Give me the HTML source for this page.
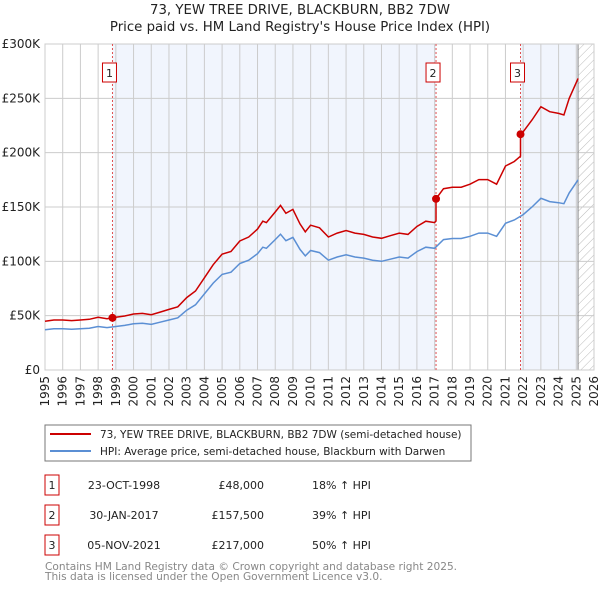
<!DOCTYPE html>
<html><head><meta charset="utf-8"><style>
body{margin:0;background:#fff;width:600px;height:590px;overflow:hidden;font-family:"DejaVu Sans","Liberation Sans",sans-serif}
svg text{font-family:"DejaVu Sans","Liberation Sans",sans-serif}
</style></head><body>
<svg id="c" width="600" height="590" xmlns="http://www.w3.org/2000/svg">
<defs><pattern id="hatch" width="6" height="6" patternUnits="userSpaceOnUse" patternTransform="rotate(45)"><line x1="0" y1="0" x2="0" y2="6" stroke="#bbb" stroke-width="1"/></pattern></defs>
<text x="300" y="14" text-anchor="middle" font-size="13.3" fill="#222">73, YEW TREE DRIVE, BLACKBURN, BB2 7DW</text>
<text x="300" y="31" text-anchor="middle" font-size="13.3" fill="#222">Price paid vs. HM Land Registry's House Price Index (HPI)</text>
<g id="plot"></g>
<rect x="45" y="425" width="426" height="36" fill="#fff" stroke="#777"/>
<line x1="50" y1="434" x2="91" y2="434" stroke="#cc0000" stroke-width="2"/>
<text x="100" y="438" font-size="10.5" fill="#222">73, YEW TREE DRIVE, BLACKBURN, BB2 7DW (semi-detached house)</text>
<line x1="50" y1="451" x2="91" y2="451" stroke="#5b8fd4" stroke-width="2"/>
<text x="100" y="455" font-size="10.5" fill="#222">HPI: Average price, semi-detached house, Blackburn with Darwen</text>
<g id="table" font-size="11" fill="#222"></g>
<text x="45" y="570" font-size="10.6" fill="#888">Contains HM Land Registry data © Crown copyright and database right 2025.</text>
<text x="45" y="580" font-size="10.6" fill="#888">This data is licensed under the Open Government Licence v3.0.</text>
</svg>
<script>
const hpiYears=[1995,1995.5,1996,1996.5,1997,1997.5,1998,1998.5,1999,1999.5,2000,2000.5,2001,2001.5,2002,2002.5,2003,2003.5,2004,2004.5,2005,2005.5,2006,2006.5,2007,2007.3,2007.5,2008,2008.3,2008.6,2009,2009.4,2009.7,2010,2010.5,2011,2011.5,2012,2012.5,2013,2013.5,2014,2014.5,2015,2015.5,2016,2016.5,2017,2017.5,2018,2018.5,2019,2019.5,2020,2020.5,2021,2021.5,2022,2022.5,2023,2023.5,2024,2024.3,2024.6,2025.1];
const hpiValues=[37,38,38,37.5,38,38.5,40,39,40,41,42.5,43,42,44,46,48,55,60,70,80,88,90,98,101,107,113,112,120,125,119,122,111,105,110,108,101,104,106,104,103,101,100,102,104,103,109,113,112,120,121,121,123,126,126,123,135,138,143,150,158,155,154,153,163,175];
const saleDates=[1998.81,2017.08,2021.85];
const salePrices=[48,157.5,217];
const saleLabels=["1","2","3"];
const saleDateText=["23-OCT-1998","30-JAN-2017","05-NOV-2021"];
const salePriceText=["£48,000","£157,500","£217,000"];
const saleHpiText=["18% ↑ HPI","39% ↑ HPI","50% ↑ HPI"];
const yTicks=[0,50,100,150,200,250,300];
const yTickLabels=["£0","£50K","£100K","£150K","£200K","£250K","£300K"];
const xStart=1995,xEnd=2026,dataEnd=2025.1;

const X0=45,X1=594,Y0=370,Y1=44;
const xs=t=>X0+(t-xStart)/(xEnd-xStart)*(X1-X0);
const ys=v=>Y0-v/300*(Y0-Y1);
const NS="http://www.w3.org/2000/svg";
const plot=document.getElementById('plot');
function mk(tag,attrs,parent){const e=document.createElementNS(NS,tag);for(const k in attrs)e.setAttribute(k,attrs[k]);(parent||plot).appendChild(e);return e;}
function hpiAt(t){for(let i=0;i<hpiYears.length-1;i++){if(t<=hpiYears[i+1]){const f=(t-hpiYears[i])/(hpiYears[i+1]-hpiYears[i]);return hpiValues[i]+f*(hpiValues[i+1]-hpiValues[i]);}}return hpiValues[hpiValues.length-1];}

let bg=mk('rect',{x:X0,y:Y1,width:X1-X0,height:Y0-Y1,fill:'#fff'});


const bands=[[saleDates[0],saleDates[1]],[saleDates[2],dataEnd]];
bands.forEach((b,i)=>{const r=mk('rect',{x:xs(b[0]),y:Y1,width:xs(b[1])-xs(b[0]),height:Y0-Y1,fill:'#eef3fc',opacity:0.8});

});
let h=mk('rect',{x:xs(dataEnd),y:Y1,width:X1-xs(dataEnd),height:Y0-Y1,fill:'url(#hatch)'});


for(let yr=xStart;yr<=xEnd;yr++){const l=mk('line',{x1:xs(yr),x2:xs(yr),y1:Y1,y2:Y0,stroke:'#ccc','stroke-width':1});


const tx=mk('text',{x:0,y:0,'font-size':12,fill:'#222','text-anchor':'end',transform:`translate(${xs(yr)+4},${Y0+6}) rotate(-90)`});tx.textContent=yr;

}
yTicks.forEach((v,i)=>{const l=mk('line',{x1:X0,x2:X1,y1:ys(v),y2:ys(v),stroke:'#ccc','stroke-width':1});


const tx=mk('text',{x:40,y:ys(v)+4,'font-size':12,fill:'#222','text-anchor':'end'});tx.textContent=yTickLabels[i];

});
let vl=mk('line',{x1:xs(dataEnd),x2:xs(dataEnd),y1:Y1,y2:Y0,stroke:'#888','stroke-width':1});


let fr=mk('rect',{x:X0,y:Y1,width:X1-X0,height:Y0-Y1,fill:'none',stroke:'#ccc'});


saleDates.forEach((d,i)=>{const l=mk('line',{x1:xs(d),x2:xs(d),y1:Y1,y2:Y0,stroke:'#e05050','stroke-width':1,'stroke-dasharray':'2,2'});


const bx=mk('rect',{x:xs(d)-10,y:63,width:14,height:19,fill:'#fff',stroke:'#cc0000'});


const t=mk('text',{x:xs(d)-3,y:77,'font-size':11,fill:'#222','text-anchor':'middle'});t.textContent=saleLabels[i];

});
const pts=hpiYears.map((t,i)=>xs(t).toFixed(1)+','+ys(hpiValues[i]).toFixed(1));
let hp=mk('polyline',{points:pts.join(' '),fill:'none',stroke:'#5b8fd4','stroke-width':1.5});


const rp=[];
hpiYears.forEach((t,i)=>{let k=-1;saleDates.forEach((d,j)=>{if(t>=d)k=j;});const f=k<0?salePrices[0]/hpiAt(saleDates[0]):salePrices[k]/hpiAt(saleDates[k]);
if(k>=0&&i>0&&hpiYears[i-1]<saleDates[k]){const kp=k-1<0?0:k-1;const fp=salePrices[kp]/hpiAt(saleDates[kp]);rp.push([saleDates[k],hpiAt(saleDates[k])*(k===0?f:fp)]);rp.push([saleDates[k],salePrices[k]]);}
rp.push([t,hpiValues[i]*f]);});
let pl=mk('polyline',{points:rp.map(p=>xs(p[0]).toFixed(1)+','+ys(p[1]).toFixed(1)).join(' '),fill:'none',stroke:'#cc0000','stroke-width':1.5});


saleDates.forEach((d,i)=>{const c=mk('circle',{cx:xs(d),cy:ys(salePrices[i]),r:4,fill:'#cc0000'});

});
const tb=document.getElementById('table');
saleDates.forEach((d,i)=>{const y=483+i*30;
const b=mk('rect',{x:45,y:y-8,width:14,height:20,fill:'#fff',stroke:'#cc0000'},tb);


const cells=[[52,saleLabels[i],'middle'],[124,saleDateText[i],'middle'],[264,salePriceText[i],'end'],[312,saleHpiText[i],'start']];
cells.forEach((c,j)=>{const t=mk('text',{x:c[0],y:y+6,'text-anchor':c[2]},tb);t.textContent=c[1];

});});
</script>
</body></html>
